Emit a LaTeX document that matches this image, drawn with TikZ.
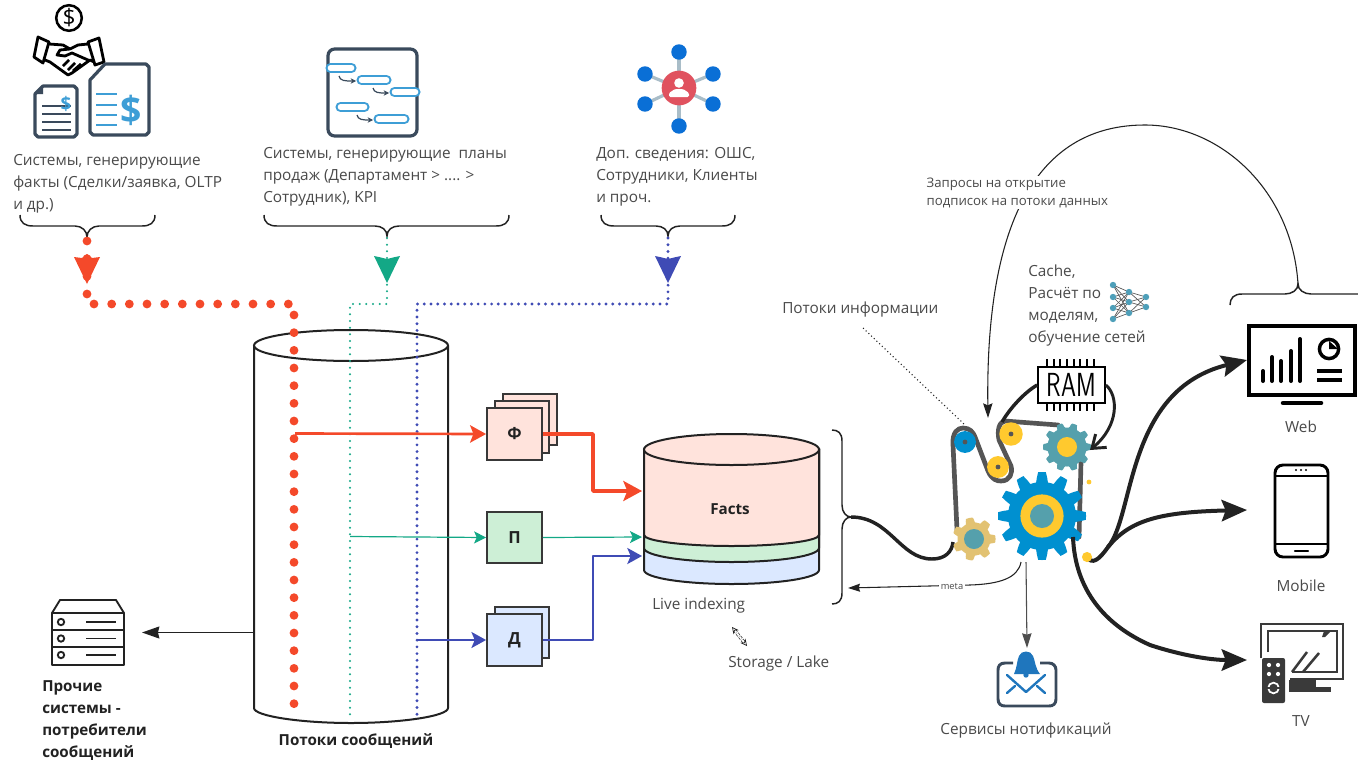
\documentclass[tikz,border=0pt]{standalone}
\usepackage{fontspec}
\setmainfont{Open Sans}
\setsansfont{Open Sans}
\newfontfamily\ramf{lmsans17-regular.otf}
\usetikzlibrary{arrows.meta}
\definecolor{tc}{HTML}{4A4A4A}
\definecolor{rd}{HTML}{F4492A}
\definecolor{gn}{HTML}{13A886}
\definecolor{bl}{HTML}{3F4BB5}
\definecolor{pinkf}{HTML}{FFE3DC}
\definecolor{greenf}{HTML}{CDEFD6}
\definecolor{bluef}{HTML}{DBE8FF}
\definecolor{dk}{HTML}{222222}
\definecolor{belt}{HTML}{555555}
\definecolor{gblue}{HTML}{0090D0}
\definecolor{gyel}{HTML}{FFC92E}
\definecolor{gteal}{HTML}{55A0AC}
\definecolor{gtan}{HTML}{E2C272}
\definecolor{navy}{HTML}{3A4A5C}
\definecolor{sky}{HTML}{3E9ED6}
\definecolor{net}{HTML}{0A6FD6}
\definecolor{spoke}{HTML}{A9BDC8}
\definecolor{crim}{HTML}{E0525F}
\newcommand{\gearshape}[6]{% cx cy R r teeth colour
  \fill[#6] plot[domain=0:360,samples=145,variable=\t]
  ({#1+(#4+(#3-#4)*min(1,max(0,0.5+1.3*cos(#5*\t))))*cos(\t)},
   {#2+(#4+(#3-#4)*min(1,max(0,0.5+1.3*cos(#5*\t))))*sin(\t)}) -- cycle;}
\newcommand{\hbrace}[5]{% xl xm xr ytop ytip; y-bar = ytop+11
  \draw[bracel] (#1,#4) .. controls (#1,#4+8) and (#1+5,#4+11) .. (#1+13,#4+11)
   -- (#2-12,#4+11) .. controls (#2-5,#4+11) and (#2,#5-6) .. (#2,#5)
   .. controls (#2,#5-6) and (#2+5,#4+11) .. (#2+12,#4+11)
   -- (#3-13,#4+11) .. controls (#3-5,#4+11) and (#3,#4+8) .. (#3,#4);}
\newcommand{\pill}[3]{\draw[sky,line width=7.6pt,line cap=round] (#1+4.5,#3)--(#2-4.5,#3);
  \draw[white,line width=4.2pt,line cap=round] (#1+4.5,#3)--(#2-4.5,#3);}
\tikzset{
  x=0.75pt,y=-0.75pt,
  txt/.style={font=\fontsize{11.5pt}{16.5pt}\selectfont,text=tc,inner sep=0pt,align=left},
  btxt/.style={font=\fontsize{11.4pt}{16.5pt}\selectfont\bfseries,text=dk,inner sep=0pt,align=left},
  bracel/.style={draw=dk,line width=1.1pt},
  boxst/.style={draw=dk!90,line width=1.6pt,minimum width=41pt,minimum height=38.5pt,inner sep=0pt,font=\fontsize{12.5pt}{13pt}\selectfont\bfseries,text=dk},
  dblr/.style={rd,line width=6.6pt,line cap=round,dash pattern=on 0pt off 13.25pt},
  dgn/.style={gn,line width=1.7pt,line cap=round,dash pattern=on 0pt off 5pt},
  dbl/.style={bl,line width=2.4pt,line cap=round,dash pattern=on 0pt off 5.05pt},
  rdarr/.style={rd,line width=2pt,-{Stealth[length=12pt,width=13pt,inset=2.5pt]}},
  rdarrb/.style={rd,line width=2.6pt,-{Stealth[length=14pt,width=15pt,inset=3pt]}},
  gnarr/.style={gn,line width=.9pt,-{Stealth[length=9pt,width=9pt,inset=2pt]}},
  blarr/.style={bl,line width=1.7pt,-{Stealth[length=11pt,width=12pt,inset=2.5pt]}},
  bigarr/.style={dk,line width=3pt,-{Stealth[length=19pt,width=16pt,inset=3pt]}},
  thinarr/.style={dk,line width=.8pt,-{Stealth[length=11pt,width=7pt,inset=1.5pt]}},
  beltl/.style={belt,line width=3.5pt,line join=round,line cap=round},
  blk/.style={dk,line width=2.6pt},
}
\begin{document}
\begin{tikzpicture}
\useasboundingbox (0,0) rectangle (1358,760);
\fill[white] (0,0) rectangle (1358,760);

%% ---------- top-left icons
\coordinate (hs) at (69,18);
\draw[black,line width=1.9pt] (hs) circle[radius=9.6pt];
\node[inner sep=0pt,font=\fontsize{17pt}{17pt}\selectfont] (coin) at (hs) {\$};
\draw[black,line width=2.1pt,line join=round]
  (38,37)--(49,42)--(43,63)--(34,57)--cycle
  (88,42)--(99,38)--(104,62)--(95,65)--cycle
  (49,44)--(63,45)--(70,49)--(78,45)--(88,44)
  (45,60)--(50,62)--(68,75)--(72,73)--(90,60)--(94,62)
  (70,49)--(60,50)--(57,55)--(65,56)--(72,53)--(88,60)
  (63,66)--(69,60) (68,70)--(75,63) (73,71)--(81,64);
% small invoice
\draw[navy,line width=2.4pt,line join=round,fill=white] (43,86)--(74,86)--(77,89)--(77,134)--(74,137)--(38,137)--(35,134)--(35,94)--cycle;
\fill[navy] (35,94)--(43,86)--(43,94)--cycle;
\foreach \yy in {106,114,122,130}{\draw[navy,line width=1.5pt] (42,\yy)--(71,\yy);}
\node[inner sep=0pt,text=sky,font=\fontsize{14pt}{14pt}\selectfont\bfseries] (usd1) at (66,104) {\$};
% large invoice
\draw[navy,line width=2.4pt,line join=round,fill=white] (105,64)--(146,64)--(149,67)--(149,132)--(146,135)--(93,135)--(90,132)--(90,80)--cycle;
\foreach \yy in {94,105,115,125}{\draw[sky,line width=2pt] (96,\yy)--(117,\yy);}
\node[inner sep=0pt,text=sky,font=\fontsize{28pt}{28pt}\selectfont\bfseries] (usd2) at (131,110) {\$};

%% gantt icon
\draw[navy,line width=2.4pt,rounded corners=5pt] (328,49) rectangle (417,136);
\pill{326}{356}{68}
\pill{357}{391}{80}
\pill{390}{420}{92}
\pill{336}{369}{107}
\pill{374}{409}{119}
\draw[navy,line width=.9pt,-{Stealth[length=4pt,width=4pt]}] (339,76) .. controls (340,81) and (345,81) .. (356,81);
\draw[navy,line width=.9pt,-{Stealth[length=4pt,width=4pt]}] (373,88) .. controls (374,93) and (379,93) .. (389,93);
\draw[navy,line width=.9pt,-{Stealth[length=4pt,width=4pt]}] (357,115) .. controls (358,120) and (363,120) .. (373,120);

%% people network icon
\coordinate (netc) at (679,88);
\foreach \p/\q in {679/52,645/74,713/74,645/104,713/104,679/126}{
  \draw[spoke,line width=2.4pt] (netc)--(\p,\q);
  \fill[net] (\p,\q) circle[radius=5.8pt];}
\fill[crim] (netc) circle[radius=13pt];
\fill[white] (679,83) circle[radius=3.6pt];
\fill[white,rounded corners=1pt] (669,97)--(669,93)--(675,89)--(683,89)--(689,93)--(689,97)--cycle;

%% ---------- source captions
\node[txt,anchor=north west] (srcA) at (13,154) {Системы, генерирующие\\факты (Сделки/заявка, OLTP\\и др.)};
\node[txt,anchor=north west] (srcB) at (263,147) {Системы, генерирующие\ \ планы\\продаж (Департамент > .... >\\Сотрудник), KPI};
\node[txt,anchor=north west] (srcC) at (596,147) {Доп. сведения: ОШС,\\Сотрудники, Клиенты\\и проч.};

%% braces
\hbrace{20}{87}{155}{215}{237}
\hbrace{264}{387}{509}{215}{236}
\hbrace{601}{668}{735}{215}{236}
\coordinate (tipA) at (87,241);
\coordinate (tipB) at (387,238);
\coordinate (tipC) at (668,238);

%% ---------- message stream cylinder
\coordinate (cylTL) at (254,345.5);
\coordinate (cylTR) at (448,345.5);
\coordinate (cylC) at (351,345.5);
\draw[dk,line width=1.5pt] (cylTL)--(254,708) .. controls (254,716) and (300,723) .. (351,723) .. controls (402,723) and (448,716) .. (448,708)--(cylTR);
\draw[dk,line width=1.5pt] (cylC) ellipse[x radius=97,y radius=15.5];
\node[btxt,anchor=center] (cylLbl) at (356,741) {Потоки сообщений};

%% dotted feeds
\coordinate (ra) at (87,296);
\coordinate (rb) at (94,304);
\coordinate (rc) at (289,304);
\coordinate (rd1) at (294,315);
\coordinate (re) at (294,704);
\draw[dblr] (tipA)--(ra) (rb)--(rc) (rd1)--(re);
\coordinate (gb) at (387,304);
\coordinate (gc) at (350,304);
\coordinate (gd) at (350,718);
\draw[dgn] (tipB)--(gb)--(gc)--(gd);
\coordinate (bb) at (668,304);
\coordinate (bc) at (417,304);
\coordinate (bd) at (417,718);
\draw[dbl] (tipC)--(bb)--(bc)--(bd);
% large heads
\fill[rd] (74,257)--(82,258)--(87,254)--(92,258)--(100,257)--(87,284)--cycle;
\fill[gn] (374,256)--(381,257.5)--(387,259)--(393,257.5)--(400,256)--(387,283)--cycle;
\fill[bl] (655,256)--(662,257.5)--(668,259)--(674,257.5)--(681,256)--(668,283)--cycle;

%% ---------- Ф, П, Д boxes
\node[boxst,fill=pinkf] (f3) at (530,419.5) {};
\node[boxst,fill=pinkf] (f2) at (522,427) {};
\node[boxst,fill=pinkf] (f1) at (514.5,434) {Ф};
\node[boxst,fill=greenf] (p1) at (514.5,537.5) {П};
\node[boxst,fill=bluef] (d2) at (522,632.5) {};
\node[boxst,fill=bluef] (d1) at (514.5,640) {Д};

%% ---------- Facts database
\coordinate (dbC) at (731.5,449.5);
\path[fill=bluef,draw=dk,line width=1.5pt] (644,449.5)--(644,570) .. controls (644,578) and (685,584) .. (731.5,584) .. controls (778,584) and (819,578) .. (819,570)--(819,449.5)--cycle;
\path[fill=greenf,draw=dk,line width=1.5pt] (644,449.5)--(644,548) .. controls (644,556) and (685,562) .. (731.5,562) .. controls (778,562) and (819,556) .. (819,548)--(819,449.5)--cycle;
\path[fill=pinkf,draw=dk,line width=1.5pt] (644,449.5)--(644,535) .. controls (644,541) and (685,546) .. (731.5,546) .. controls (778,546) and (819,541) .. (819,535)--(819,449.5)--cycle;
\draw[dk,line width=1.5pt,fill=pinkf] (dbC) ellipse[x radius=87.5,y radius=15.5];
\node[btxt,anchor=center] (facts) at (730,509) {Facts};
\coordinate (dbF) at (642,491);
\coordinate (dbP) at (642,537);
\coordinate (dbD) at (642,556);

%% colored flow arrows
\coordinate (srF) at (295,433.5);
\coordinate (srP) at (350,536.5);
\coordinate (srD) at (417,640);
\draw[rdarr] (srF)--(f1.west);
\draw[gnarr] (srP)--(p1.west);
\draw[blarr] (srD)--(d1.west);
\draw[rdarrb,line join=round] (f1.east)--(593,434)--(593,491)--(dbF);
\draw[gnarr] (p1.east)--(dbP);
\draw[blarr,line join=round] (d1.east)--(593,640)--(593,556)--(dbD);

%% consumers server
\coordinate (cylOut) at (254,632.5);
\coordinate (srvIn) at (142,632.5);
\draw[dk,line width=1.1pt,-{Stealth[length=13pt,width=9pt,inset=1pt]}] (cylOut)--(srvIn);
\draw[dk,line width=1.4pt,line join=round] (52,613)--(60,600)--(116,600)--(124,613)--cycle (52,613) rectangle (124,665) (52,630)--(124,630) (52,647)--(124,647);
\foreach \yy in {622,638.5,655}{
  \draw[dk,line width=1.4pt] (61,\yy) circle[radius=2.4pt];
  \draw[dk,line width=1.4pt] (86,\yy)--(116,\yy);}
\node[btxt,anchor=north west] (srvLbl) at (42,680) {Прочие\\системы -\\потребители\\сообщений};

%% live indexing
\node[txt,anchor=west] (live) at (652,606) {Live indexing};
\node[txt,anchor=west] (lake) at (728,663.5) {Storage / Lake};
\coordinate (la) at (732,627);
\coordinate (lb) at (747,646);
\draw[dk,line width=.5pt,double=white,double distance=1.4pt,{Stealth[length=5pt,width=5pt,open]}-{Stealth[length=5pt,width=5pt,open]},dash pattern=on 2pt off 1pt] (la)--(lb);

%% right brace of DB
\coordinate (brTip) at (851,517);
\draw[bracel] (832,430) .. controls (838,430) and (842,433) .. (842,441) -- (842,505) .. controls (842,512) and (846,517) .. (brTip) .. controls (846,517) and (842,522) .. (842,529) -- (842,593) .. controls (842,601) and (838,604) .. (832,604);

%% ---------- processing: belt and gears
\coordinate (beltS) at (953,542);
\draw[blk] (brTip) .. controls (890,517) and (900,559) .. (932,559) .. controls (945,559) and (952,552) .. (beltS);
% belt
\draw[beltl] (957,530) -- (953,445) .. controls (952,432) and (958,428) .. (963,428)
  .. controls (970,428) and (973,432) .. (975,437) -- (988,471)
  .. controls (992,480) and (997,481) .. (1001,481) .. controls (1010,481) and (1013,473) .. (1011,466)
  -- (999,440) .. controls (997,430) and (999,422) .. (1005,421) -- (1058,425);
\draw[beltl] (1081,462) -- (1079,537);
\fill[gblue] (965,442) circle[radius=8.2pt];
\fill[belt] (965,442) circle[radius=1.8pt];
\fill[gyel] (998,467) circle[radius=8.2pt];
\fill[belt] (998,467) circle[radius=1.8pt];
\fill[gyel] (1011,434) circle[radius=8.8pt];
\fill[belt] (1011,434) circle[radius=1.8pt];
\gearshape{1067}{447}{24}{19.5}{10}{gteal}
\fill[gyel] (1067,447) circle[radius=7.5pt];
\gearshape{1042}{516}{44}{34}{12}{gblue}
\fill[gyel] (1042,516) circle[radius=16.2pt];
\fill[gteal] (1042,516) circle[radius=9pt];
\gearshape{974}{539}{21.5}{16.5}{7}{gtan}
\fill[gteal] (974,539) circle[radius=7.5pt];
\fill[gyel] (1089,482) circle[radius=1.8pt];

%% RAM
\foreach \xx in {1047,1054,1060,1067,1074,1080,1087,1094}{\draw[black,line width=1.2pt] (\xx,359)--(\xx,411);}
\node[draw=black,line width=1.5pt,fill=white,minimum width=50pt,minimum height=27pt,inner sep=0pt] (ram) at (1071.5,385) {};
\node[inner sep=0pt,font=\fontsize{25pt}{25pt}\ramf,xscale=.72] (ramt) at (1071.5,385) {RAM};
\coordinate (beltU) at (1002,422);
\coordinate (tealIn) at (1090,450);
\draw[blk] (ram.west) .. controls (1025,392) and (1010,408) .. (beltU);
\draw[dk,line width=2.2pt,-{Straight Barb[length=9pt,width=13pt]}] (ram.east) .. controls (1118,395) and (1120,425) .. (tealIn);

%% flows to devices
\coordinate (webTip) at (1247,360);
\coordinate (mobTip) at (1247,510);
\coordinate (tvTip) at (1247,660);
\coordinate (gearOut) at (1073,537);
\coordinate (yd) at (1087,557);
\coordinate (fork) at (1108,547);
\draw[bigarr] (yd) .. controls (1092,565) and (1099,560) .. (fork) .. controls (1135,515) and (1125,390) .. (webTip);
\draw[bigarr] (fork) .. controls (1130,520) and (1160,512) .. (mobTip);
\draw[bigarr] (gearOut) .. controls (1075,590) and (1105,625) .. (1150,645) .. controls (1180,655) and (1210,660) .. (tvTip);
\fill[gyel] (yd) circle[radius=3.8pt];

%% web device
\draw[black,line width=2.4pt] (1249,326) rectangle (1355,395);
\draw[black,line width=3.4pt,line cap=round] (1283,403)--(1321,403);
\foreach \xx/\yy in {1263/371,1272/357,1281/361,1291/351,1300/339}{\draw[black,line width=3pt,line cap=round] (\xx,381)--(\xx,\yy);}
\draw[black,line width=2.6pt] (1329,349) circle[radius=7.2pt];
\fill[black] (1329,349)--(1329,341)--(1338,349)--cycle;
\draw[black,line width=2.4pt] (1317,371)--(1342,371) (1317,380)--(1342,380);
\node[txt,anchor=center] (webL) at (1301,427) {Web};

%% mobile
\draw[black,line width=2.2pt,rounded corners=6pt] (1275,465) rectangle (1328,557);
\draw[black,line width=1.8pt] (1275,476)--(1328,476) (1275,544)--(1328,544);
\draw[black,line width=1.8pt,line cap=round] (1295,551)--(1308,551);
\fill[black] (1296,470) circle[radius=.8pt] (1301,470) circle[radius=.8pt] (1306,470) circle[radius=.8pt];
\node[txt,anchor=center] (mobL) at (1301,586) {Mobile};

%% TV
\definecolor{tvc}{HTML}{3A3A3A}
\draw[tvc,line width=2pt] (1261,658)--(1261,624)--(1343,624)--(1343,679)--(1290,679);
\draw[tvc,line width=1.6pt] (1268,652)--(1268,631)--(1337,631)--(1337,672)--(1292,672);
\fill[tvc] (1324,631)--(1331,631)--(1325,637)--(1322,637)--cycle;
\draw[tvc,line width=1.9pt] (1292,672)--(1307,652) (1303,672)--(1319,653);
\fill[tvc] (1289,680) rectangle (1316,692);
\fill[tvc] (1316,687) rectangle (1331,692);
\fill[tvc,rounded corners=1.5pt] (1262,658) rectangle (1285,703);
\fill[white] (1269,665) circle[radius=1.6pt] (1278,665) circle[radius=1.6pt] (1269,674) circle[radius=1.6pt] (1278,674) circle[radius=1.6pt];
\draw[white,line width=1.3pt] (1273.5,688) circle[radius=4pt];
\fill[tvc] (1264,687) rectangle (1283,689);
\node[txt,anchor=center] (tvL) at (1301,721) {TV};

%% devices brace
\coordinate (devTip) at (1298,284);
\draw[bracel] (1230,305) .. controls (1230,298) and (1234,294) .. (1242,294) -- (1285,294) .. controls (1292,294) and (1298,290) .. (devTip) .. controls (1298,290) and (1304,294) .. (1311,294) -- (1358,294);

%% subscription arc
\coordinate (arcEnd) at (988,418);
\draw[thinarr] (devTip) .. controls (1292,190) and (1220,125) .. (1145,125) .. controls (1050,125) and (985,200) .. (arcEnd);
\node[anchor=north west,fill=white,inner sep=1pt,font=\fontsize{9.9pt}{13.5pt}\selectfont,text=tc,align=left] (subs) at (925,176) {Запросы на открытие\\подписок на потоки данных};

%% info flows caption
\node[txt,anchor=west] (flows) at (782,310) {Потоки информации};
\coordinate (flowEnd) at (965,425);
\draw[dk,line width=.8pt,dotted] (863,328)--(flowEnd);

%% cache caption and neural net
\node[txt,anchor=north west] (cache) at (1028,265) {Cache,\\Расчёт по\\моделям,\\обучение сетей};
\foreach \a in {285,297,308,319}{\foreach \b in {292,302,313}{\draw[belt,line width=.5pt] (1113,\a)--(1129,\b);}}
\foreach \a in {292,302,313}{\foreach \b in {297,307}{\draw[belt,line width=.5pt] (1129,\a)--(1146,\b);}}
\foreach \p/\q in {1113/285,1113/297,1113/308,1113/319,1129/292,1129/302,1129/313,1146/297,1146/307}{\fill[gteal!70!sky] (\p,\q) circle[radius=2.4pt];}

%% meta arrow
\coordinate (metaS) at (1021,562);
\coordinate (metaT) at (848,588);
\draw[dk,line width=.8pt,-{Stealth[length=9pt,width=6pt,inset=1pt]}] (metaS) .. controls (1018,578) and (1000,584) .. (970,585) -- (metaT);
\node[fill=white,inner sep=1.2pt,font=\fontsize{7pt}{8pt}\selectfont,text=tc] (metaL) at (952,586) {meta};

%% notification
\coordinate (notS) at (1026,562);
\coordinate (notT) at (1027,648);
\draw[dk!80,line width=.8pt,-{Stealth[length=11pt,width=7pt,inset=1pt]}] (notS)--(notT);
\draw[navy,line width=2.2pt] (1013,663)--(1005,663) .. controls (1000,663) and (998,666) .. (998,670)--(998,699) .. controls (998,704) and (1001,706) .. (1005,706)--(1049,706) .. controls (1053,706) and (1056,704) .. (1056,699)--(1056,670) .. controls (1056,666) and (1053,663) .. (1049,663)--(1040,663);
\definecolor{bell}{HTML}{1F76BD}
\fill[bell] (1014,674) .. controls (1017,668) and (1017,660) .. (1019,656) .. controls (1021,650) and (1031,650) .. (1033,656) .. controls (1035,660) and (1035,668) .. (1040,674) -- cycle;
\fill[bell] (1026,675) circle[radius=2pt];
\draw[bell,line width=1.8pt,line cap=round,line join=round] (1007,675)--(1026,692)--(1045,675) (1007,693)--(1015,686) (1045,693)--(1037,686);
\node[txt,anchor=center] (notL) at (1026,731) {Сервисы нотификаций};
\end{tikzpicture}
\end{document}
